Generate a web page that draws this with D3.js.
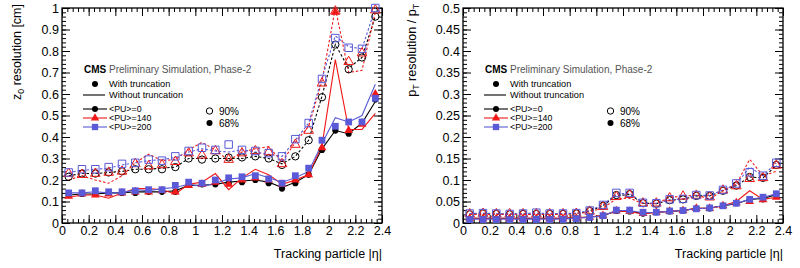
<!DOCTYPE html>
<html><head><meta charset="utf-8">
<script src="https://cdn.jsdelivr.net/npm/d3@7"></script>
<style>
body{margin:0;background:#fff;}
svg{display:block;font-family:"Liberation Sans",Arial,Helvetica,sans-serif;}
</style></head>
<body><svg id="c" width="800" height="268"></svg>
<script>
// ---- data ----
const etaBins = [0.05,0.15,0.25,0.35,0.45,0.55,0.65,0.75,0.85,0.95,1.05,1.15,1.25,1.35,1.45,1.55,1.65,1.75,1.85,1.95,2.05,2.15,2.25,2.35];
const xTicks = [0,0.2,0.4,0.6,0.8,1,1.2,1.4,1.6,1.8,2,2.2,2.4];
const z0Ticks = [0,0.1,0.2,0.3,0.4,0.5,0.6,0.7,0.8,0.9,1];
const ptTicks = [0,0.05,0.1,0.15,0.2,0.25,0.3,0.35,0.4,0.45,0.5];
const puLabels = ["<PU>=0","<PU>=140","<PU>=200"];

// z0 resolution [cm]
const z0_pu0_68_trunc    = [0.13,0.135,0.135,0.14,0.14,0.14,0.145,0.145,0.145,0.18,0.18,0.18,0.185,0.19,0.2,0.185,0.16,0.185,0.225,0.34,0.43,0.415,0.47,0.575];
const z0_pu0_68_notrunc  = [0.13,0.135,0.135,0.14,0.14,0.145,0.145,0.145,0.15,0.175,0.175,0.18,0.19,0.195,0.2,0.19,0.165,0.19,0.225,0.345,0.43,0.415,0.465,0.565];
const z0_pu140_68_trunc  = [0.125,0.135,0.13,0.135,0.14,0.145,0.145,0.15,0.145,0.175,0.18,0.19,0.18,0.2,0.21,0.2,0.18,0.2,0.225,0.35,0.98,0.43,0.46,0.6];
const z0_pu140_68_notrunc= [0.12,0.13,0.13,0.115,0.14,0.16,0.16,0.155,0.135,0.18,0.19,0.23,0.155,0.21,0.25,0.225,0.18,0.2,0.225,0.36,0.76,0.435,0.435,0.51];
const z0_pu200_68_trunc  = [0.14,0.14,0.15,0.145,0.145,0.15,0.155,0.155,0.175,0.19,0.185,0.2,0.21,0.215,0.22,0.205,0.185,0.22,0.255,0.385,0.45,0.47,0.47,0.58];
const z0_pu200_68_notrunc= [0.14,0.14,0.145,0.14,0.14,0.155,0.15,0.16,0.165,0.18,0.17,0.185,0.205,0.21,0.23,0.21,0.19,0.21,0.24,0.37,0.49,0.47,0.5,0.645];
const z0_pu0_90_trunc    = [0.215,0.23,0.23,0.235,0.24,0.25,0.25,0.25,0.26,0.3,0.295,0.3,0.305,0.305,0.31,0.3,0.27,0.31,0.385,0.585,0.83,0.715,0.77,0.96];
const z0_pu0_90_notrunc  = [0.22,0.23,0.23,0.235,0.24,0.25,0.25,0.255,0.26,0.3,0.3,0.3,0.3,0.3,0.31,0.3,0.275,0.31,0.385,0.59,0.83,0.72,0.77,0.96];
const z0_pu140_90_trunc  = [0.23,0.225,0.23,0.235,0.24,0.275,0.265,0.27,0.285,0.325,0.315,0.335,0.295,0.325,0.335,0.33,0.275,0.365,0.43,0.65,0.985,0.75,0.79,0.99];
const z0_pu140_90_notrunc= [0.2,0.22,0.2,0.185,0.22,0.28,0.32,0.29,0.295,0.34,0.375,0.34,0.29,0.33,0.345,0.355,0.285,0.375,0.45,0.66,1.0,0.7,0.71,0.98];
const z0_pu200_90_trunc  = [0.235,0.25,0.25,0.26,0.275,0.28,0.295,0.29,0.31,0.335,0.35,0.34,0.365,0.34,0.335,0.325,0.31,0.39,0.465,0.67,0.86,0.815,0.81,1.0];
const z0_pu200_90_notrunc= [0.235,0.245,0.25,0.255,0.27,0.28,0.29,0.295,0.305,0.33,0.345,0.335,0.33,0.34,0.33,0.32,0.31,0.385,0.465,0.675,0.87,0.82,0.81,1.0];

// pT resolution / pT
const pt_pu0_68_trunc    = [0.01,0.01,0.01,0.01,0.01,0.01,0.01,0.01,0.011,0.013,0.017,0.028,0.027,0.022,0.025,0.027,0.029,0.034,0.034,0.04,0.046,0.054,0.055,0.066];
const pt_pu0_68_notrunc  = [0.011,0.011,0.011,0.011,0.011,0.011,0.011,0.011,0.012,0.014,0.017,0.028,0.027,0.022,0.025,0.027,0.029,0.034,0.035,0.04,0.045,0.055,0.057,0.066];
const pt_pu140_68_trunc  = [0.01,0.01,0.01,0.01,0.01,0.01,0.01,0.01,0.011,0.013,0.017,0.028,0.027,0.022,0.025,0.027,0.029,0.034,0.034,0.04,0.047,0.05,0.054,0.06];
const pt_pu140_68_notrunc= [0.011,0.011,0.011,0.011,0.011,0.011,0.011,0.011,0.012,0.014,0.018,0.028,0.026,0.021,0.025,0.027,0.029,0.034,0.034,0.04,0.05,0.075,0.055,0.06];
const pt_pu200_68_trunc  = [0.008,0.008,0.008,0.008,0.008,0.008,0.008,0.008,0.01,0.013,0.017,0.03,0.03,0.025,0.025,0.028,0.029,0.033,0.035,0.04,0.046,0.055,0.06,0.068];
const pt_pu200_68_notrunc= [0.009,0.009,0.009,0.009,0.009,0.009,0.009,0.009,0.011,0.013,0.017,0.029,0.029,0.024,0.025,0.027,0.029,0.033,0.035,0.04,0.046,0.055,0.06,0.068];
const pt_pu0_90_trunc    = [0.02,0.022,0.021,0.02,0.021,0.021,0.021,0.021,0.022,0.028,0.04,0.065,0.067,0.046,0.045,0.053,0.055,0.063,0.063,0.075,0.087,0.107,0.105,0.135];
const pt_pu0_90_notrunc  = [0.021,0.022,0.021,0.021,0.021,0.021,0.021,0.021,0.022,0.028,0.04,0.064,0.066,0.046,0.045,0.053,0.055,0.063,0.063,0.075,0.087,0.107,0.105,0.134];
const pt_pu140_90_trunc  = [0.021,0.022,0.021,0.021,0.021,0.021,0.021,0.021,0.022,0.027,0.038,0.061,0.066,0.046,0.046,0.058,0.062,0.064,0.06,0.076,0.086,0.103,0.105,0.134];
const pt_pu140_90_notrunc= [0.02,0.02,0.02,0.02,0.02,0.02,0.02,0.02,0.021,0.026,0.035,0.056,0.058,0.045,0.045,0.06,0.062,0.065,0.056,0.075,0.09,0.148,0.11,0.12];
const pt_pu200_90_trunc  = [0.022,0.023,0.022,0.021,0.022,0.024,0.022,0.022,0.023,0.029,0.042,0.07,0.07,0.047,0.046,0.055,0.056,0.065,0.064,0.077,0.092,0.118,0.11,0.14];
const pt_pu200_90_notrunc= [0.022,0.023,0.022,0.021,0.022,0.023,0.022,0.022,0.023,0.029,0.042,0.068,0.069,0.047,0.046,0.054,0.056,0.065,0.064,0.077,0.09,0.13,0.11,0.14];

// ---- drawing ----
const colors = ["#000000","#f01818","#5a5ad8"];
const shapes = [d3.symbolCircle, d3.symbolTriangle, d3.symbolSquare];
const svg = d3.select("#c");

const panels = [
  {x0:62, x1:382, yMax:1, ticks:z0Ticks, minor:0.02, fmt:d=>d3.format("")(d),
   m68:[[z0_pu0_68_trunc,z0_pu0_68_notrunc],[z0_pu140_68_trunc,z0_pu140_68_notrunc],[z0_pu200_68_trunc,z0_pu200_68_notrunc]],
   m90:[[z0_pu0_90_trunc,z0_pu0_90_notrunc],[z0_pu140_90_trunc,z0_pu140_90_notrunc],[z0_pu200_90_trunc,z0_pu200_90_notrunc]]},
  {x0:463, x1:783, yMax:0.5, ticks:ptTicks, minor:0.01, fmt:d=>d3.format("")(d),
   m68:[[pt_pu0_68_trunc,pt_pu0_68_notrunc],[pt_pu140_68_trunc,pt_pu140_68_notrunc],[pt_pu200_68_trunc,pt_pu200_68_notrunc]],
   m90:[[pt_pu0_90_trunc,pt_pu0_90_notrunc],[pt_pu140_90_trunc,pt_pu140_90_notrunc],[pt_pu200_90_trunc,pt_pu200_90_notrunc]]}
];
const yTop = 8, yBot = 223;
const FS = 12.5, LFS = 9.2, PFS = 8.8;

function range(a,b,s){const r=[];for(let v=a;v<=b+1e-9;v+=s)r.push(+v.toFixed(4));return r;}

panels.forEach((p,pi)=>{
  const x = d3.scaleLinear().domain([0,2.4]).range([p.x0,p.x1]);
  const y = d3.scaleLinear().domain([0,p.yMax]).range([yBot,yTop]);
  const g = svg.append("g");
  const xMinor = range(0,2.4,0.04);
  const yMinor = range(0,p.yMax,p.minor);

  function ax(axis, tr, major, minor, labels){
    const gm = g.append("g").attr("transform",tr).call(axis.tickValues(minor).tickSize(-4).tickFormat(""));
    gm.select(".domain").remove();
    const ga = g.append("g").attr("transform",tr)
      .call(axis.tickValues(major).tickSize(-8).tickPadding(labels?3:0).tickFormat(labels?p.fmt:""));
    ga.select(".domain").remove();
    ga.selectAll("text").attr("font-size",FS).attr("font-family","Liberation Sans, Arial, sans-serif").attr("fill","#000");
    g.selectAll(".tick line").attr("stroke","#000").attr("stroke-width",1);
  }
  ax(d3.axisBottom(x), `translate(0,${yBot})`, xTicks, xMinor, true);
  ax(d3.axisTop(x), `translate(0,${yTop})`, xTicks, xMinor, false);
  ax(d3.axisLeft(y), `translate(${p.x0},0)`, p.ticks, yMinor, true);
  ax(d3.axisRight(y), `translate(${p.x1},0)`, p.ticks, yMinor, false);

  g.append("rect").attr("x",p.x0).attr("y",yTop).attr("width",p.x1-p.x0).attr("height",yBot-yTop)
    .attr("fill","none").attr("stroke","#000").attr("stroke-width",1.3);

  const line = d3.line().x((d,i)=>x(etaBins[i])).y(d=>y(d));
  [0,1,2].forEach(k=>{
    g.append("path").datum(p.m90[k][1]).attr("d",line).attr("fill","none")
      .attr("stroke",colors[k]).attr("stroke-width",1.1).attr("stroke-dasharray","2.5,2");
    g.append("path").datum(p.m68[k][1]).attr("d",line).attr("fill","none")
      .attr("stroke",colors[k]).attr("stroke-width",1.1);
  });
  [0,1,2].forEach(k=>{
    const openSize = [42,40,56][k], fillSize=[30,34,46][k];
    g.selectAll(null).data(p.m90[k][0]).enter().append("path")
      .attr("transform",(d,i)=>`translate(${x(etaBins[i])},${y(d)})`)
      .attr("d",d3.symbol().type(shapes[k]).size(openSize))
      .attr("fill","none").attr("stroke",colors[k]).attr("stroke-width",1);
    g.selectAll(null).data(p.m68[k][0]).enter().append("path")
      .attr("transform",(d,i)=>`translate(${x(etaBins[i])},${y(d)})`)
      .attr("d",d3.symbol().type(shapes[k]).size(fillSize))
      .attr("fill",colors[k]);
  });

  g.append("text").attr("x",p.x1).attr("y",258).attr("text-anchor","end")
    .attr("font-size",FS).text("Tracking particle |η|");
  const yt = g.append("text").attr("text-anchor","end").attr("font-size",FS)
    .attr("transform",`translate(${pi===0?21:416},4) rotate(-90)`);
  if(pi===0){
    yt.append("tspan").text("z");
    yt.append("tspan").attr("font-size",FS*0.7).attr("dy","0.35em").text("0");
    yt.append("tspan").attr("dy","-0.25em").text(" resolution [cm]");
  } else {
    yt.append("tspan").text("p");
    yt.append("tspan").attr("font-size",FS*0.7).attr("dy","0.35em").text("T");
    yt.append("tspan").attr("dy","-0.25em").text(" resolution / p");
    yt.append("tspan").attr("font-size",FS*0.7).attr("dy","0.35em").text("T");
  }

  const ox = p.x0 + 22;
  const t = g.append("text").attr("x",ox).attr("y",72.5).attr("font-size",10);
  t.append("tspan").attr("font-weight","bold").text("CMS");
  t.append("tspan").attr("fill","#555").text(" Preliminary Simulation, Phase-2");

  g.append("circle").attr("cx",ox+11).attr("cy",84).attr("r",3).attr("fill","#000");
  g.append("text").attr("x",ox+25).attr("y",87.3).attr("font-size",LFS).text("With truncation");
  g.append("line").attr("x1",ox-1).attr("x2",ox+21).attr("y1",95).attr("y2",95).attr("stroke","#000").attr("stroke-width",1.1);
  g.append("text").attr("x",ox+25).attr("y",98.4).attr("font-size",LFS).text("Without truncation");

  const ly = [109,118,127];
  [0,1,2].forEach(k=>{
    g.append("line").attr("x1",ox-1).attr("x2",ox+23).attr("y1",ly[k]).attr("y2",ly[k]).attr("stroke",colors[k]).attr("stroke-width",1.1);
    g.append("path").attr("transform",`translate(${ox+11},${ly[k]})`)
      .attr("d",d3.symbol().type(shapes[k]).size([28,30,40][k])).attr("fill",colors[k]);
    g.append("text").attr("x",ox+25).attr("y",ly[k]+3.2).attr("font-size",PFS).text(puLabels[k]);
  });
  g.append("circle").attr("cx",ox+125.5).attr("cy",111).attr("r",3.2).attr("fill","none").attr("stroke","#000").attr("stroke-width",1);
  g.append("text").attr("x",ox+135).attr("y",114.5).attr("font-size",10).text("90%");
  g.append("circle").attr("cx",ox+125.5).attr("cy",123).attr("r",3).attr("fill","#000");
  g.append("text").attr("x",ox+135).attr("y",126.5).attr("font-size",10).text("68%");
});
</script></body></html>
